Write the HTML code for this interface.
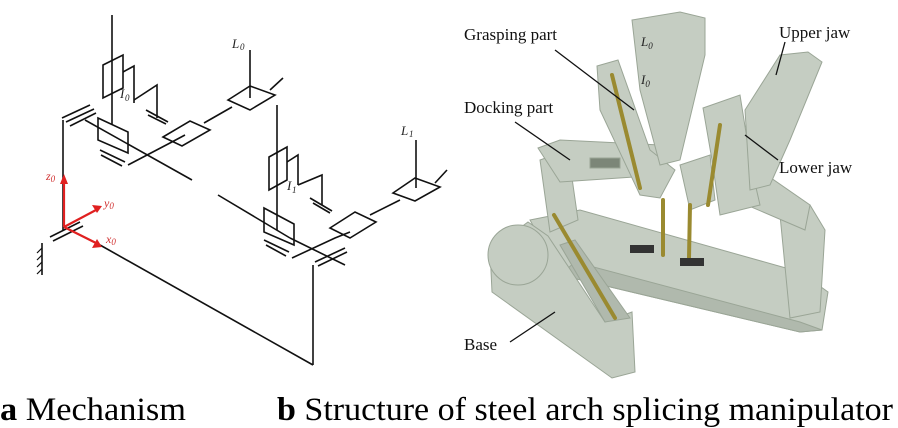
<!DOCTYPE html>
<html><head><meta charset="utf-8"><style>
html,body{margin:0;padding:0;background:#fff;width:898px;height:428px;overflow:hidden}
svg{display:block}
text{font-family:"Liberation Serif",serif}
</style></head><body>
<svg width="898" height="428" viewBox="0 0 898 428" xmlns="http://www.w3.org/2000/svg">
<g stroke="#111" stroke-width="1.6" fill="none">
  <line x1="63" y1="120" x2="63" y2="230"/>
  <line x1="42" y1="243" x2="42" y2="275"/>
  <g stroke-width="1.2"><line x1="42" y1="248" x2="37" y2="253"/><line x1="42" y1="255" x2="37" y2="260"/><line x1="42" y1="262" x2="37" y2="267"/><line x1="42" y1="269" x2="37" y2="274"/></g>
  <line x1="50" y1="237" x2="80" y2="222"/><line x1="53" y1="241" x2="83" y2="226"/>
  <line x1="100" y1="245" x2="313" y2="365"/>
  <line x1="313" y1="365" x2="313" y2="265"/>
  <line x1="62" y1="118" x2="90" y2="105"/><line x1="66" y1="122" x2="94" y2="109"/><line x1="70" y1="126" x2="96" y2="113"/>
  <line x1="85" y1="120" x2="192" y2="180"/>
  <line x1="112" y1="15" x2="112" y2="125"/>
  <polygon points="103,65 123,55 123,88 103,98"/>
  <polyline points="123,72 134,66 134,103"/>
  <polyline points="134,100 157,85 157,118"/>
  <line x1="146" y1="110" x2="168" y2="122"/><line x1="148" y1="115" x2="166" y2="124"/>
  <polygon points="98,118 128,132 128,153 98,140"/>
  <line x1="100" y1="150" x2="125" y2="162"/><line x1="101" y1="155" x2="122" y2="166"/>
  <polyline points="128,165 170,143 185,135"/>
  <polygon points="163,137 190,121 210,130 182,146"/>
  <line x1="204" y1="123" x2="232" y2="107"/>
  <polygon points="228,100 250,86 275,95 250,110"/>
  <line x1="250" y1="50" x2="250" y2="98"/>
  <line x1="270" y1="90" x2="283" y2="78"/>
  <line x1="218" y1="195" x2="290" y2="238"/>
  <line x1="290" y1="238" x2="345" y2="265"/>
  <line x1="277" y1="105" x2="277" y2="230"/>
  <polygon points="269,157 287,147 287,180 269,190"/>
  <polyline points="287,162 298,155 298,185"/>
  <polyline points="298,185 322,175 322,205"/>
  <line x1="310" y1="198" x2="332" y2="211"/><line x1="313" y1="203" x2="330" y2="213"/>
  <polygon points="264,208 294,224 294,245 264,232"/>
  <line x1="264" y1="240" x2="289" y2="252"/><line x1="266" y1="245" x2="286" y2="256"/>
  <polyline points="292,258 335,238 350,232"/>
  <polygon points="330,228 355,212 376,222 350,238"/>
  <line x1="370" y1="215" x2="400" y2="200"/>
  <polygon points="393,193 415,178 440,187 415,201"/>
  <line x1="416" y1="140" x2="416" y2="188"/>
  <line x1="435" y1="183" x2="447" y2="170"/>
  <line x1="315" y1="262" x2="345" y2="248"/><line x1="318" y1="266" x2="347" y2="252"/>
</g>
<g font-style="italic" font-size="13" fill="#222">
  <text x="232" y="48">L</text><text x="240" y="50" font-size="9">0</text>
  <text x="401" y="135">L</text><text x="409" y="137" font-size="9">1</text>
  <text x="120" y="98">I</text><text x="125" y="101" font-size="9">0</text>
  <text x="287" y="190">I</text><text x="292" y="193" font-size="9">1</text>
</g>
<g stroke="#e02020" stroke-width="2.2" fill="#e02020">
  <line x1="64" y1="227" x2="64" y2="182"/><polygon points="60,184 68,184 64,174" stroke="none"/>
  <line x1="64" y1="227" x2="96" y2="210"/><polygon points="92,205 97,213 102,206" stroke="none"/>
  <line x1="64" y1="227" x2="96" y2="243"/><polygon points="92,248 97,239 102,247" stroke="none"/>
</g>
<g fill="#d03030" font-size="12" font-style="italic">
  <text x="46" y="180">z<tspan font-size="9" dy="2">0</tspan></text>
  <text x="104" y="207">y<tspan font-size="9" dy="2">0</tspan></text>
  <text x="106" y="243">x<tspan font-size="9" dy="2">0</tspan></text>
</g>

<g stroke="#9aa596" stroke-width="1" fill="#c5cdc2">
  <polygon points="530,220 580,210 800,272 828,292 822,330 800,332 560,275"/>
  <polygon points="560,275 800,332 822,330 800,322 575,262" fill="#b0b9ad"/>
  <polygon points="780,215 810,205 825,230 820,312 790,318"/>
  <polygon points="540,160 568,150 578,220 550,232"/>
  <polygon points="538,148 560,140 660,145 665,175 560,182"/>
  <rect x="590" y="158" width="30" height="10" fill="#7c8678"/>
  <polygon points="722,170 745,160 810,205 805,230 735,200"/>
  <polygon points="490,250 528,222 548,236 605,322 632,312 635,372 612,378 492,292"/>
  <circle cx="518" cy="255" r="30"/>
  <polygon points="560,245 575,240 630,318 605,322" fill="#b0b9ad"/>
  <polygon points="597,66 618,60 650,150 675,170 660,198 640,195 600,110"/>
  <polygon points="632,20 680,12 705,18 705,55 680,160 660,165 640,90"/>
  <polygon points="703,108 740,95 752,170 760,205 720,215 712,160"/>
  <polygon points="680,165 710,155 715,200 690,210"/>
  <polygon points="745,110 780,55 808,52 822,62 790,140 770,185 750,190"/>
</g>
<g stroke="#9a8a30" stroke-width="4" stroke-linecap="round">
  <line x1="554" y1="215" x2="615" y2="318"/>
  <line x1="612" y1="75" x2="640" y2="188"/>
  <line x1="720" y1="125" x2="708" y2="205"/>
  <line x1="663" y1="200" x2="663" y2="255"/>
  <line x1="690" y1="205" x2="689" y2="258"/>
</g>
<rect x="630" y="245" width="24" height="8" fill="#333"/>
<rect x="680" y="258" width="24" height="8" fill="#333"/>
<g font-size="17" fill="#111">
  <text x="464" y="40">Grasping part</text>
  <text x="779" y="38">Upper jaw</text>
  <text x="464" y="113">Docking part</text>
  <text x="779" y="173">Lower jaw</text>
  <text x="464" y="350">Base</text>
</g>
<g font-style="italic" font-size="13" fill="#222">
  <text x="641" y="46">L<tspan font-size="9" dy="3">0</tspan></text>
  <text x="641" y="84">I<tspan font-size="9" dy="3">0</tspan></text>
</g>
<g stroke="#111" stroke-width="1.3">
  <line x1="555" y1="50" x2="634" y2="110"/>
  <line x1="515" y1="122" x2="570" y2="160"/>
  <line x1="778" y1="160" x2="745" y2="135"/>
  <line x1="785" y1="42" x2="776" y2="75"/>
  <line x1="510" y1="342" x2="555" y2="312"/>
</g>
<text x="0" y="420" font-size="33" textLength="186" lengthAdjust="spacingAndGlyphs"><tspan font-weight="bold">a</tspan> Mechanism</text>
<text x="277" y="420" font-size="33" textLength="616" lengthAdjust="spacingAndGlyphs"><tspan font-weight="bold">b</tspan> Structure of steel arch splicing manipulator</text>
</svg>
</body></html>
